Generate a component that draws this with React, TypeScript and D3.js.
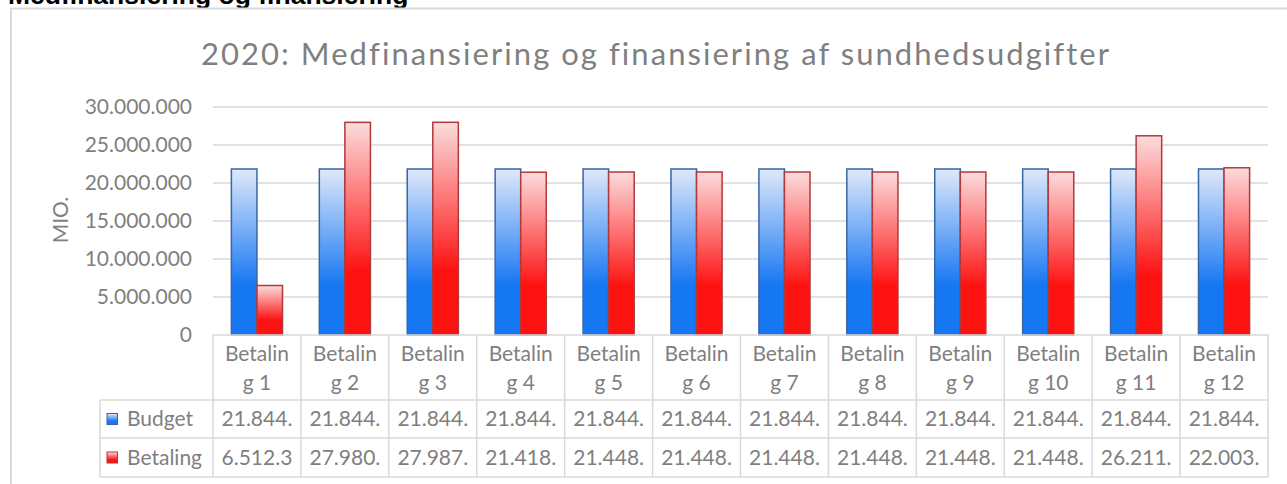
import React from "react";
import * as d3 from "d3";

const categories = ["Betaling 1","Betaling 2","Betaling 3","Betaling 4","Betaling 5","Betaling 6","Betaling 7","Betaling 8","Betaling 9","Betaling 10","Betaling 11","Betaling 12"];
const seriesNames = ["Budget", "Betaling"];
const budget = [21844000,21844000,21844000,21844000,21844000,21844000,21844000,21844000,21844000,21844000,21844000,21844000];
const betaling = [6512300,27980000,27987000,21418000,21448000,21448000,21448000,21448000,21448000,21448000,26211000,22003000];
const yTicks = [0,5000000,10000000,15000000,20000000,25000000,30000000];
const title = "2020: Medfinansiering og finansiering af sundhedsudgifter";
const heading = "Medfinansiering og finansiering";
const yLabel = "MIO.";

const W = 1287, H = 484;
const FONT = "Lato, 'Open Sans', sans-serif";
const GRAY = "#7f7f7f";
const LINE = "#d9d9d9";
const FS = 21;

const fmt = (v: number) => {
  const s = Math.round(v).toString();
  return s.replace(/\B(?=(\d{3})+(?!\d))/g, ".");
};

export default function App() {
  const left = 213, right = 1268, top = 107, bottom = 335;
  const x0 = d3.scaleBand<string>().domain(categories).range([left, right]).padding(0);
  const x1 = d3.scaleBand<string>().domain(seriesNames).range([0, x0.bandwidth()]).paddingInner(0).paddingOuter(0.72);
  const y = d3.scaleLinear().domain([0, 30000000]).range([bottom, top]);
  const series = [budget, betaling];
  const fills = ["url(#gBlue)", "url(#gRed)"];
  const strokes = ["#3a64a8", "#b0393b"];
  const rowTop = [400, 438];
  const rowBot = [438, 477];
  const legendLeft = 100;

  return (
    <svg width={W} height={H} style={{ position: "absolute", left: 0, top: 0, background: "#fff", fontVariantLigatures: "none" }} fontFamily={FONT}>
      <defs>
        <linearGradient id="gBlue" x1="0" y1="0" x2="0" y2="1">
          <stop offset="0" stopColor="#dfe9fa" />
          <stop offset="0.7" stopColor="#1677f2" />
          <stop offset="1" stopColor="#1677f2" />
        </linearGradient>
        <linearGradient id="gRed" x1="0" y1="0" x2="0" y2="1">
          <stop offset="0" stopColor="#fcdcdc" />
          <stop offset="0.7" stopColor="#fd1212" />
          <stop offset="1" stopColor="#fd1212" />
        </linearGradient>
      </defs>
      <rect x={0} y={0} width={W} height={H} fill="#fff" />
      <text x={8} y={4} fontFamily="'Liberation Sans', Arial, sans-serif" fontWeight="bold" fontSize={26.5} fill="#000">{heading}</text>
      <path d={`M11,${H} V8.5 H${W}`} fill="none" stroke={LINE} strokeWidth={2} />
      <text x={655} y={65} textAnchor="middle" fontSize={31} fill={GRAY} textLength={908} lengthAdjust="spacing">{title}</text>

      {yTicks.map((t) => (
        <g key={t}>
          {t > 0 && <line x1={left} x2={right} y1={y(t)} y2={y(t)} stroke={LINE} strokeWidth={1.5} />}
          <text x={192} y={y(t)} dy="0.35em" textAnchor="end" fontSize={FS} fill={GRAY}>{t === 0 ? "0" : fmt(t)}</text>
        </g>
      ))}
      <text transform={`translate(68,220) rotate(-90)`} textAnchor="middle" fontSize={FS} fill={GRAY}>{yLabel}</text>

      {categories.map((c, i) => (
        <g key={c} transform={`translate(${x0(c)},0)`}>
          {seriesNames.map((s, k) => (
            <rect key={s} x={(x1(s) as number)} y={y(series[k][i])} width={x1.bandwidth()} height={bottom - y(series[k][i])}
              fill={fills[k]} stroke={strokes[k]} strokeWidth={1.5} />
          ))}
        </g>
      ))}

      {/* data table */}
      <line x1={left} x2={right} y1={bottom} y2={bottom} stroke={LINE} strokeWidth={1.5} />
      {[...rowTop, 477].map((yy) => (
        <line key={yy} x1={legendLeft} x2={right} y1={yy} y2={yy} stroke={LINE} strokeWidth={1.5} />
      ))}
      <line x1={legendLeft} x2={legendLeft} y1={400} y2={477} stroke={LINE} strokeWidth={1.5} />
      {categories.map((c) => (
        <line key={c} x1={x0(c)} x2={x0(c)} y1={bottom} y2={477} stroke={LINE} strokeWidth={1.5} />
      ))}
      <line x1={right} x2={right} y1={bottom} y2={477} stroke={LINE} strokeWidth={1.5} />

      {categories.map((c) => {
        const cx = (x0(c) as number) + x0.bandwidth() / 2;
        const parts = c.split(" ");
        const word = parts[0];
        return (
          <g key={c}>
            <text x={cx} y={361} textAnchor="middle" fontSize={FS} fill={GRAY}>{word.slice(0, 7)}</text>
            <text x={cx} y={390} textAnchor="middle" fontSize={FS} fill={GRAY}>{word.slice(7) + " " + parts[1]}</text>
          </g>
        );
      })}

      {seriesNames.map((s, k) => (
        <g key={s}>
          <rect x={107} y={(rowTop[k] + rowBot[k]) / 2 - 5.5} width={10.5} height={11} fill={fills[k]} stroke={strokes[k]} strokeWidth={1} />
          <text x={127} y={(rowTop[k] + rowBot[k]) / 2} dy="0.35em" fontSize={FS} fill={GRAY}>{s}</text>
          {categories.map((c, i) => (
            <text key={c} x={(x0(c) as number) + x0.bandwidth() / 2} y={(rowTop[k] + rowBot[k]) / 2} dy="0.35em"
              textAnchor="middle" fontSize={FS} fill={GRAY}>{fmt(series[k][i]).slice(0, 7)}</text>
          ))}
        </g>
      ))}
    </svg>
  );
}
